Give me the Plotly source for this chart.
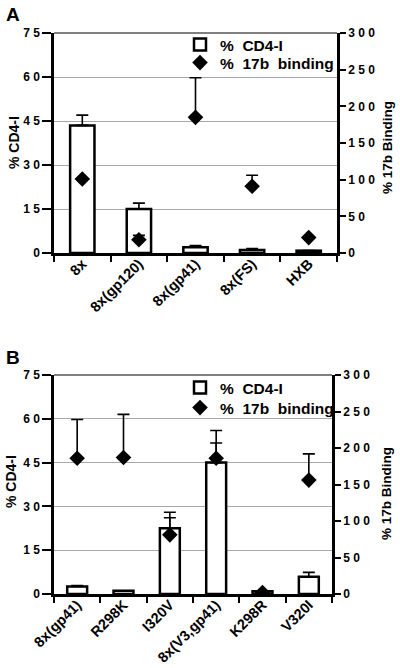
import plotly.graph_objects as go

# ---- Panel A data ----
categories_a = ["8x", "8x(gp120)", "8x(gp41)", "8x(FS)", "HXB"]
cd4i_a = [43.5, 15.0, 2.0, 1.0, 0.8]
cd4i_err_a = [3.5, 2.0, 0.5, 0.5, 0.0]
b17_a = [101, 18, 185, 91, 21]
b17_err_a = [0, 6, 54, 15, 0]

# ---- Panel B data ----
categories_b = ["8x(gp41)", "R298K", "I320V", "8x(V3,gp41)", "K298R", "V320I"]
cd4i_b = [2.6, 1.1, 22.5, 45.0, 0.9, 5.9]
cd4i_err_b = [0.3, 0.0, 3.6, 6.7, 0.0, 1.5]
b17_b = [186, 187, 81, 186, 2, 156]
b17_err_b = [53, 59, 31, 38, 0, 36]

# ---- tick labels ----
left_vals = [0, 15, 30, 45, 60, 75]
left_text = ["0", "1 5", "3 0", "4 5", "6 0", "7 5"]
right_vals = [0, 50, 100, 150, 200, 250, 300]
right_text = ["0", "5 0", "1 0 0", "1 5 0", "2 0 0", "2 5 0", "3 0 0"]

W, H = 400, 668
def py(p):  # pixel (from top) -> paper
    return 1 - p / H
def px(p):
    return p / W

FONT = "Liberation Sans, Arial, sans-serif"
bold = lambda s: dict(family=FONT, size=s, color="black", weight="bold")

fig = go.Figure()

bar_style = dict(marker=dict(color="white", line=dict(color="black", width=2.5)), width=0.43)
err_bar = lambda arr: dict(type="data", array=arr, symmetric=False, arrayminus=[0]*len(arr),
                           color="black", thickness=1.6, width=6)
dia_style = dict(mode="markers", marker=dict(symbol="diamond", size=12, color="black"))

fig.add_trace(go.Bar(x=categories_a, y=cd4i_a, error_y=err_bar(cd4i_err_a), name="%  CD4-I",
                     xaxis="x", yaxis="y", legend="legend", **bar_style))
fig.add_trace(go.Scatter(x=categories_a, y=b17_a, error_y=err_bar(b17_err_a), name="%  17b  binding",
                         xaxis="x", yaxis="y2", legend="legend2", **dia_style))
fig.add_trace(go.Bar(x=categories_b, y=cd4i_b, error_y=err_bar(cd4i_err_b), name="%  CD4-I",
                     xaxis="x2", yaxis="y3", legend="legend3", **bar_style))
fig.add_trace(go.Scatter(x=categories_b, y=b17_b, error_y=err_bar(b17_err_b), name="%  17b  binding",
                         xaxis="x2", yaxis="y4", legend="legend4", **dia_style))

xa_common = dict(type="category", tickson="boundaries", ticks="outside", ticklen=6, tickwidth=2,
                 tickcolor="black", showline=True, linewidth=2.5, linecolor="black",
                 tickangle=-45, tickfont=bold(14.5), ticklabelstandoff=-6,
                 showgrid=False, automargin=False, fixedrange=True)
ya_left = dict(range=[0, 75], tickvals=left_vals, ticktext=left_text, ticks="outside", ticklen=9,
               tickwidth=2, tickcolor="black", showline=True, linewidth=2.5, linecolor="black",
               showgrid=True, gridcolor="#a8a8a8", gridwidth=1, zeroline=False,
               tickfont=bold(12), automargin=False)
ya_right = dict(range=[0, 300], tickvals=right_vals, ticktext=right_text, ticks="outside", ticklen=6,
                tickwidth=2, tickcolor="black", showline=True, linewidth=2.5, linecolor="black",
                showgrid=False, zeroline=False, side="right", tickfont=bold(12), automargin=False)

domA = [py(253), py(33)]
domB = [py(594), py(375)]

leg = lambda xp, yp: dict(x=px(xp), y=py(yp), xanchor="left", yanchor="top",
                          bgcolor="rgba(0,0,0,0)", font=bold(15.5), borderwidth=0)

fig.update_layout(
    width=W, height=H, margin=dict(l=0, r=0, t=0, b=0),
    paper_bgcolor="white", plot_bgcolor="white", template="none",
    barmode="overlay",
    xaxis=dict(domain=[px(54), px(337)], anchor="y", **xa_common),
    yaxis=dict(domain=domA, anchor="x", **ya_left),
    yaxis2=dict(overlaying="y", anchor="x", **ya_right),
    xaxis2=dict(domain=[px(54), px(332)], anchor="y3", **xa_common),
    yaxis3=dict(domain=domB, anchor="x2", **ya_left),
    yaxis4=dict(overlaying="y3", anchor="x2", **ya_right),
    legend=leg(180, 28),
    legend2=leg(180, 46),
    legend3=leg(180, 371),
    legend4=leg(180, 391),
    showlegend=True,
)

# thin top frame lines
fig.add_shape(type="line", xref="paper", yref="paper", x0=px(54), x1=px(337), y0=py(33), y1=py(33),
              line=dict(color="black", width=1))
fig.add_shape(type="line", xref="paper", yref="paper", x0=px(54), x1=px(332), y0=py(375), y1=py(375),
              line=dict(color="black", width=1))

ann = [
    dict(text="A", x=px(13), y=py(15), font=bold(19)),
    dict(text="B", x=px(13), y=py(357), font=bold(19)),
    dict(text="% CD4-I", x=px(14), y=py(143), textangle=-90, font=bold(14)),
    dict(text="% CD4-I", x=px(11), y=py(482), textangle=-90, font=bold(14)),
    dict(text="% 17b Binding", x=px(388), y=py(148), textangle=-90, font=bold(13.5)),
    dict(text="% 17b Binding", x=px(386), y=py(494), textangle=-90, font=bold(13.5)),
]
for a in ann:
    fig.add_annotation(xref="paper", yref="paper", showarrow=False, xanchor="center", yanchor="middle", **a)

fig.write_html("out.html", config={"displayModeBar": False},
               post_script="document.body.style.margin='0';document.body.style.overflow='hidden';")
